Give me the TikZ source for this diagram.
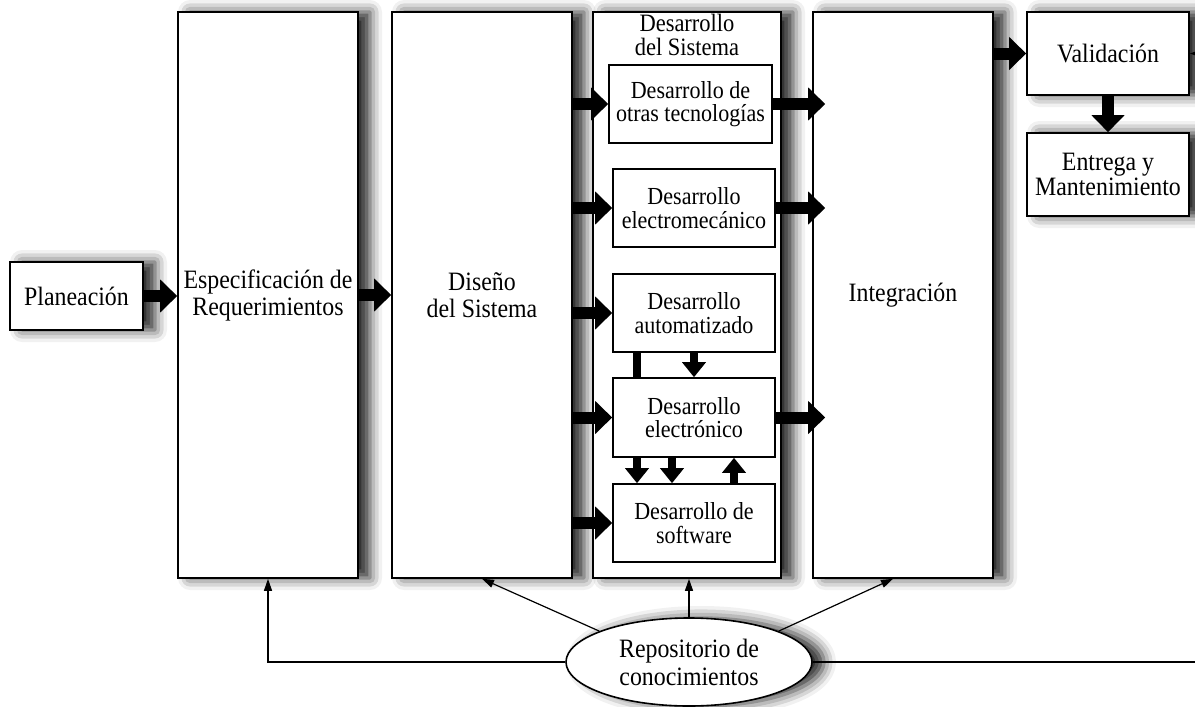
\documentclass[tikz,border=0pt]{standalone}
\usepackage{fontspec}
\setmainfont{Liberation Serif}
\newfontfamily\narrowserif{Liberation Serif}[FakeStretch=0.9]
\usetikzlibrary{arrows.meta,shapes.geometric,shadows.blur}

\tikzset{
  lbl/.style={font=\narrowserif\fontsize{26.5}{27}\selectfont, align=center},
  sublbl/.style={font=\narrowserif\fontsize{24.5}{23.5}\selectfont, align=center},
  box/.style={draw=black, line width=1.6pt, fill=white, lbl, inner sep=0pt},
  subbox/.style={draw=black, line width=1.6pt, fill=white, sublbl, inner sep=0pt},
  softshadow/.style={blur shadow={shadow xshift=12pt, shadow yshift=0pt,
      shadow blur radius=12pt, shadow opacity=85}},
  shbox/.style={box, softshadow},
  fat/.style={line width=12pt, -{Triangle[length=17pt,width=32pt]}},
  midfat/.style={line width=8pt, -{Triangle[length=15pt,width=23pt]}},
  bar/.style={line width=8pt},
  link/.style={line width=1.2pt, -{Triangle[length=12pt,width=8pt]}},
}

\begin{document}
\begin{tikzpicture}[x=1pt,y=-1pt]
\useasboundingbox (0,0) rectangle (1195,707);
\clip (0,0) rectangle (1195,707);

% main phases
\node[shbox, minimum width=133, minimum height=68] (plan) at (76.5,296) {Planeación};
\node[shbox, minimum width=180, minimum height=566] (spec) at (268,295)
  {Especificación de\\Requerimientos};
\node[shbox, minimum width=180, minimum height=566] (dis) at (482,295)
  {Diseño\\del Sistema};
\node[shbox, minimum width=188, minimum height=566] (dev) at (687,295) {};
\node[lbl, font=\narrowserif\fontsize{25}{24.5}\selectfont] (devt) at (687,35)
  {Desarrollo\\del Sistema};
\node[shbox, minimum width=180, minimum height=566] (integ) at (903,295) {Integración};
\node[shbox, minimum width=162, minimum height=83] (valid) at (1108,53.5) {Validación};
\node[shbox, minimum width=162, minimum height=83,
  font=\narrowserif\fontsize{26.5}{24.5}\selectfont] (entr) at (1108,174.5)
  {Entrega y\\Mantenimiento};

% development sub-areas
\node[subbox, minimum width=163, minimum height=78] (t1) at (690.5,104)
  {Desarrollo de\\otras tecnologías};
\node[subbox, minimum width=162, minimum height=78] (t2) at (694,208)
  {Desarrollo\\electromecánico};
\node[subbox, minimum width=162, minimum height=78] (t3) at (694,313)
  {Desarrollo\\automatizado};
\node[subbox, minimum width=162, minimum height=79] (t4) at (694,417.5)
  {Desarrollo\\electrónico};
\node[subbox, minimum width=162, minimum height=78] (t5) at (694,523)
  {Desarrollo de\\software};

% knowledge repository
\node[draw=black, line width=1.6pt, fill=white, ellipse, inner sep=0pt,
  font=\narrowserif\fontsize{26.5}{28}\selectfont, align=center,
  minimum width=246, minimum height=88, softshadow]
  (repo) at (689,662) {Repositorio de\\conocimientos};

% main flow
\draw[fat] (plan.east) -- (plan.east -| spec.west);
\draw[fat] (spec.east) -- (dis.west);
\foreach \t in {t1,t2,t3,t4,t5}
  \draw[fat] (dis.east |- \t.west) -- (\t.west);
\foreach \t in {t1,t2,t4}
  \draw[fat] (\t.east) -- ([xshift=13pt]\t.east -| integ.west);
\draw[fat] (integ.east |- valid.west) -- (valid.west);
\draw[fat] (valid.south) -- (entr.north);

% links between sub-areas
\draw[bar] ([xshift=-57pt]t3.south) -- ([xshift=-57pt]t3.south |- t4.north);
\draw[midfat] (t3.south) -- (t3.south |- t4.north);
\draw[midfat] ([xshift=-57pt]t4.south) -- ([xshift=-57pt]t4.south |- t5.north);
\draw[midfat] ([xshift=-22pt]t4.south) -- ([xshift=-22pt]t4.south |- t5.north);
\draw[midfat] ([xshift=40pt]t5.north) -- ([xshift=40pt]t5.north |- t4.south);

% repository feedback
\coordinate (edge) at (1212,0);
\draw[link] (repo.west) -| (spec.south);
\draw[link] (repo.161) -- (dis.south);
\draw[link] (repo.north) -- (repo.north |- dev.south);
\draw[link] (repo.19) -- ([xshift=-10pt]integ.south);
\draw[link] (repo.east) -- (repo.east -| edge) -- (edge |- valid.east) -- (valid.east);
\end{tikzpicture}
\end{document}
